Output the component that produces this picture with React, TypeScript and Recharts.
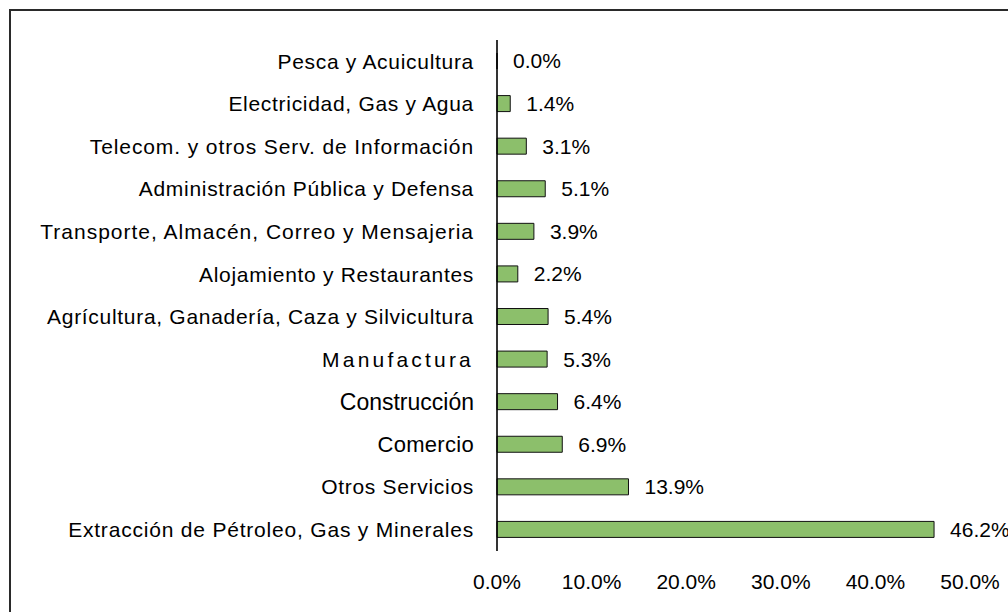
import { Bar, BarChart, LabelList, XAxis, YAxis } from 'recharts'

const sectors = [
  'Pesca y Acuicultura',
  'Electricidad, Gas y Agua',
  'Telecom. y otros Serv. de Información',
  'Administración Pública y Defensa',
  'Transporte, Almacén, Correo y Mensajeria',
  'Alojamiento y Restaurantes',
  'Agrícultura, Ganadería, Caza y Silvicultura',
  'Manufactura',
  'Construcción',
  'Comercio',
  'Otros Servicios',
  'Extracción de Pétroleo, Gas y Minerales',
]

const shares = [0.0, 1.4, 3.1, 5.1, 3.9, 2.2, 5.4, 5.3, 6.4, 6.9, 13.9, 46.2]

const xTicks = [0, 10, 20, 30, 40, 50]

const data = sectors.map((name, i) => ({ name, share: shares[i] }))

const font = '"Liberation Sans", Arial, sans-serif'

// label quirks copied from the original (spacing / size per category)
const labelStyle: Record<string, { size: number; spacing: number }> = {
  Manufactura: { size: 21, spacing: 3.2 },
  'Construcción': { size: 23, spacing: 0 },
  Comercio: { size: 22, spacing: 0.3 },
  'Transporte, Almacén, Correo y Mensajeria': { size: 21, spacing: 1.0 },
  'Telecom. y otros Serv. de Información': { size: 21, spacing: 0.9 },
  'Extracción de Pétroleo, Gas y Minerales': { size: 21, spacing: 0.8 },
}

const pct = (v: number) => `${v.toFixed(1)}%`

function SectorTick(props: any) {
  const { x, y, payload } = props
  const st = labelStyle[payload.value] ?? { size: 21, spacing: 0.7 }
  return (
    <text
      x={x - 23}
      y={y}
      dy="0.35em"
      textAnchor="end"
      fill="#000"
      fontFamily={font}
      fontSize={st.size}
      letterSpacing={st.spacing}
    >
      {payload.value}
    </text>
  )
}

function PctTick(props: any) {
  const { x, y, payload } = props
  return (
    <text x={x} y={y + 31} dy="0.35em" textAnchor="middle" fill="#000" fontFamily={font} fontSize={21}>
      {pct(payload.value)}
    </text>
  )
}

export default function App() {
  return (
    <div style={{ position: 'fixed', left: 0, top: 0, width: 1008, height: 612, overflow: 'hidden', background: '#fff' }}>
      <div
        style={{
          position: 'absolute',
          left: 9,
          top: 9,
          width: 1100,
          height: 700,
          border: '2px solid #2a2a2a',
        }}
      />
      <div style={{ position: 'absolute', left: 0, top: 0 }}>
        <BarChart
          width={1008}
          height={612}
          data={data}
          layout="vertical"
          margin={{ top: 40, right: 38, bottom: 21, left: 0 }}
          barSize={16}
        >
          <XAxis
            type="number"
            domain={[0, 50]}
            ticks={xTicks}
            axisLine={false}
            tickLine={false}
            tickSize={0}
            tickMargin={0}
            height={40}
            tick={<PctTick />}
            interval={0}
          />
          <YAxis
            type="category"
            dataKey="name"
            width={497}
            axisLine={{ stroke: '#000', strokeWidth: 1.6 }}
            tickLine={false}
            tickSize={0}
            tickMargin={0}
            tick={<SectorTick />}
            interval={0}
          />
          <Bar
            dataKey="share"
            fill="#8cbf6b"
            stroke="#111"
            strokeWidth={1}
            minPointSize={0.01}
            isAnimationActive={false}
          >
            <LabelList
              dataKey="share"
              position="right"
              offset={16}
              formatter={(v: any) => pct(Number(v))}
              style={{ fontFamily: font, fontSize: 21, fill: '#000' }}
            />
          </Bar>
        </BarChart>
      </div>
    </div>
  )
}
